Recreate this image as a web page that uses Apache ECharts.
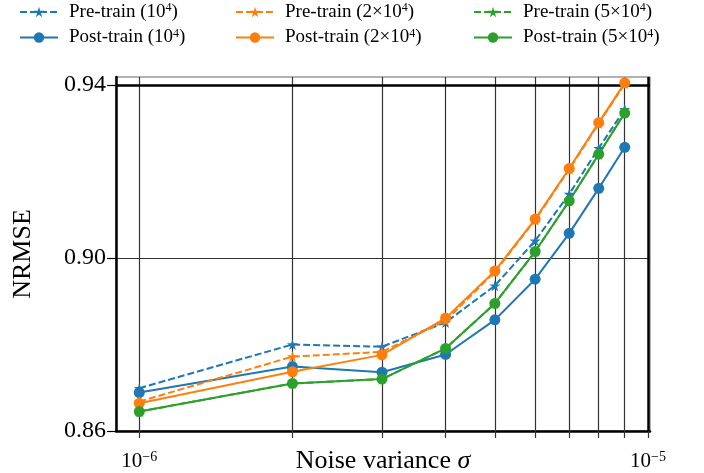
<!DOCTYPE html>
<html>
<head>
<meta charset="utf-8">
<script src="https://cdn.jsdelivr.net/npm/echarts@6/dist/echarts.min.js"></script>
<style>
  html, body { margin: 0; padding: 0; background: #fff; }
  #chart { width: 704px; height: 473px; }
</style>
</head>
<body>
<div id="chart"></div>
<script>
// noise variance sigma (x)
const noiseVar = [1e-6, 2e-6, 3e-6, 4e-6, 5e-6, 6e-6, 7e-6, 8e-6, 9e-6];
// NRMSE
const pre1 = [0.8699, 0.8800, 0.8795, 0.8851, 0.8936, 0.9040, 0.9148, 0.9254, 0.9344];
const post1 = [0.8689, 0.8749, 0.8736, 0.8777, 0.8857, 0.8951, 0.9057, 0.9161, 0.9256];
const pre2 = [0.8668, 0.8772, 0.8783, 0.8855, 0.8968, 0.9088, 0.9205, 0.9311, 0.9403];
const post2 = [0.8664, 0.8737, 0.8776, 0.8861, 0.8970, 0.9090, 0.9207, 0.9313, 0.9405];
const pre5 = [0.8645, 0.8710, 0.8720, 0.8791, 0.8895, 0.9015, 0.9132, 0.9240, 0.9336];
const post5 = [0.8645, 0.8710, 0.8720, 0.8791, 0.8895, 0.9015, 0.9132, 0.9240, 0.9335];

const xGrid = [1e-6, 2e-6, 3e-6, 4e-6, 5e-6, 6e-6, 7e-6, 8e-6, 9e-6, 1e-5];
const xLabels = [1e-6, 1e-5];
const yTicks = [0.86, 0.90, 0.94];
const xRange = [0.9e-6, 1.009e-5];
const yRange = [0.86, 0.94185];

const FONT = '"Liberation Serif", "DejaVu Serif", serif';
const colors = ['#1f77b4', '#ff7f0e', '#2ca02c'];
const STAR = 'path://M50,0 L61,35 L98,35 L68,57 L79,91 L50,70 L21,91 L32,57 L2,35 L39,35 Z';

const names = [
  ['Pre-train (10^4)', 'Post-train (10^4)'],
  ['Pre-train (2×10^4)', 'Post-train (2×10^4)'],
  ['Pre-train (5×10^4)', 'Post-train (5×10^4)'],
];
const values = [[pre1, post1], [pre2, post2], [pre5, post5]];

const supRich = {
  sup: { fontSize: 12, fontFamily: FONT, color: '#000', verticalAlign: 'top', padding: [0, 0, 8, 0] },
};

const series = [];
values.forEach((pair, i) => {
  pair.forEach((vals, j) => {
    const pre = j === 0;
    series.push({
      type: 'line',
      name: names[i][j],
      data: noiseVar.map((x, k) => [x, vals[k]]),
      symbol: pre ? STAR : 'circle',
      symbolSize: pre ? 11 : 11,
      showSymbol: true,
      color: colors[i],
      lineStyle: { width: 2, type: pre ? [7, 3] : 'solid', color: colors[i] },
      itemStyle: { color: colors[i] },
      z: 3,
      animation: false,
    });
  });
});

// vertical grid lines (log axis has no minor split lines at 2..9)
const vLines = xGrid.map(v => {
  const ls = { color: v === 1e-5 ? '#000' : '#333', width: v === 1e-5 ? 2.5 : 1.2, type: 'solid' };
  return [{ coord: [v, yRange[0]], lineStyle: ls }, { coord: [v, yRange[1]] }];
});
series[0].markLine = {
  silent: true,
  symbol: 'none',
  animation: false,
  z: 1,
  label: { show: false },
  data: vLines.concat([{ yAxis: 0.94, lineStyle: { color: '#000', width: 2.5, type: 'solid' } }]),
};

const legendBase = {
  orient: 'vertical',
  top: 2,
  itemWidth: 38,
  itemHeight: 13,
  itemGap: 6,
  padding: 0,
  formatter: n => n.replace('^4', '{sup|4}'),
  textStyle: { fontFamily: FONT, fontSize: 19, color: '#000', padding: [0, 0, 0, 6], rich: supRich },
};

const chart = echarts.init(document.getElementById('chart'));
chart.setOption({
  animation: false,
  legend: [
    { ...legendBase, left: 19, data: names[0] },
    { ...legendBase, left: 235, data: names[1] },
    { ...legendBase, left: 473, data: names[2] },
  ],
  grid: {
    left: 116, right: 54, top: 77, bottom: 42,
    outerBoundsMode: 'none',
    containLabel: false,
    show: true, borderColor: '#999', borderWidth: 1.5,
  },
  xAxis: {
    type: 'log',
    min: xRange[0],
    max: xRange[1],
    name: 'Noise variance {i|σ}',
    nameLocation: 'middle',
    nameGap: 17,
    nameMoveOverlap: false,
    nameTextStyle: {
      fontFamily: FONT, fontSize: 26, color: '#000',
      rich: { i: { fontFamily: FONT, fontSize: 26, fontStyle: 'italic', color: '#000' } },
    },
    axisLine: { show: true, lineStyle: { color: '#000', width: 2.5 } },
    axisTick: { show: true, customValues: xGrid, length: 7, lineStyle: { color: '#333', width: 1.2 } },
    axisLabel: {
      customValues: xLabels,
      margin: 19,
      fontFamily: FONT, fontSize: 21, color: '#000',
      formatter: v => '10{sup|' + (v < 5e-6 ? '−6' : '−5') + '}',
      rich: { sup: { fontSize: 14, fontFamily: FONT, color: '#000', verticalAlign: 'top', padding: [0, 0, 8, 0] } },
    },
    splitLine: { show: false },
  },
  yAxis: {
    type: 'value',
    min: yRange[0],
    max: yRange[1],
    interval: 0.04,
    name: 'NRMSE',
    nameLocation: 'middle',
    nameGap: 80,
    nameMoveOverlap: false,
    nameRotate: 90,
    nameTextStyle: { fontFamily: FONT, fontSize: 26, color: '#000' },
    axisLine: { show: true, lineStyle: { color: '#000', width: 2.5 } },
    axisTick: { show: true, customValues: yTicks, length: 9, lineStyle: { color: '#000', width: 1.2 } },
    axisLabel: {
      customValues: yTicks,
      margin: 10,
      fontFamily: FONT, fontSize: 24, color: '#000',
      formatter: v => v.toFixed(2),
    },
    splitLine: { show: true, lineStyle: { color: '#333', width: 1.2 } },
  },
  series: series,
});
</script>
</body>
</html>
